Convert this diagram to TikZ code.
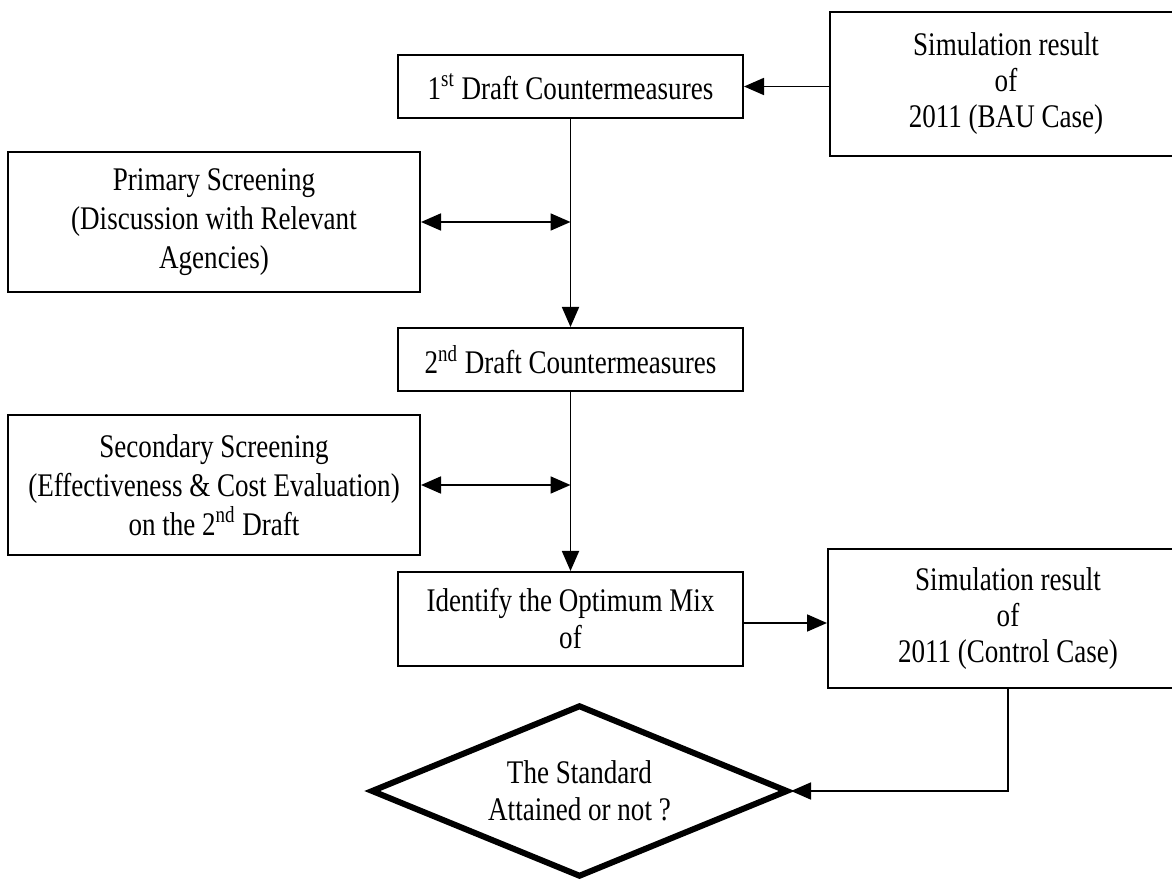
\documentclass[tikz,border=0pt]{standalone}
\usepackage{fontspec}
\setmainfont{Liberation Serif}[FakeStretch=0.82]
\usetikzlibrary{arrows.meta,shapes.geometric}

\begin{document}
\begin{tikzpicture}[x=0.5pt,y=-0.5pt,
  box/.style={draw, line width=1pt, inner sep=0pt, align=center,
    font=\fontsize{16.5}{18}\selectfont},
  widebox/.style={box, font=\fontsize{16.5}{19.5}\selectfont},
  decision/.style={draw, diamond, aspect=2.4, line width=3pt, inner sep=0pt, align=center,
    font=\fontsize{16.5}{18.5}\selectfont},
  tip/.style={Triangle[length=10pt,width=8.5pt]},
  conn/.style={line width=0.9pt, -{Triangle[length=10pt,width=8.5pt]}},
  twoway/.style={line width=0.9pt, {Triangle[length=10pt,width=8.5pt]}-{Triangle[length=10pt,width=8.5pt]}}]

% page
\fill[white] (0,0) rectangle (1172,881);
\useasboundingbox (0,0) rectangle (1172,881);

% process boxes
\node[box, minimum width=176pt, minimum height=72pt] (bau) at (1006,84)
  {Simulation result\\of\\2011 (BAU Case)};
\node[box, minimum width=172.5pt, minimum height=31.5pt] (d1) at (570.5,86.5)
  {1\textsuperscript{st} Draft Countermeasures};
\node[widebox, minimum width=206pt, minimum height=70pt] (prim) at (214,222)
  {Primary Screening\\(Discussion with Relevant\\Agencies)};
\node[box, minimum width=172.5pt, minimum height=31.5pt] (d2) at (570.5,359.5)
  {2\textsuperscript{nd} Draft Countermeasures};
\node[widebox, minimum width=206pt, minimum height=70pt] (sec) at (214,485)
  {Secondary Screening\\(Effectiveness \& Cost Evaluation)\\on the 2\textsuperscript{nd} Draft};
\node[box, minimum width=172.5pt, minimum height=47pt, font=\fontsize{16.5}{18.5}\selectfont] (opt) at (570.5,619)
  {Identify the Optimum Mix\\of};
\node[box, minimum width=180pt, minimum height=69.5pt] (ctrl) at (1008,618.5)
  {Simulation result\\of\\2011 (Control Case)};

% decision
\node[decision, minimum width=208.5pt, minimum height=86pt] (dec) at (579.5,791)
  {The Standard\\Attained or not ?};

% connectors
\draw[conn] (bau.west |- d1.east) -- (d1.east);
\draw[conn] (d1.south) -- (d2.north);
\draw[twoway] (prim.east) -- (prim.east -| d1.south);
\draw[conn] (d2.south) -- (opt.north);
\draw[twoway] (sec.east) -- (sec.east -| d2.south);
\draw[conn] ([yshift=-2pt]opt.east) -- ([yshift=-2pt]opt.east -| ctrl.west);
\draw[conn] (ctrl.south) |- (dec.east);

\end{tikzpicture}
\end{document}
